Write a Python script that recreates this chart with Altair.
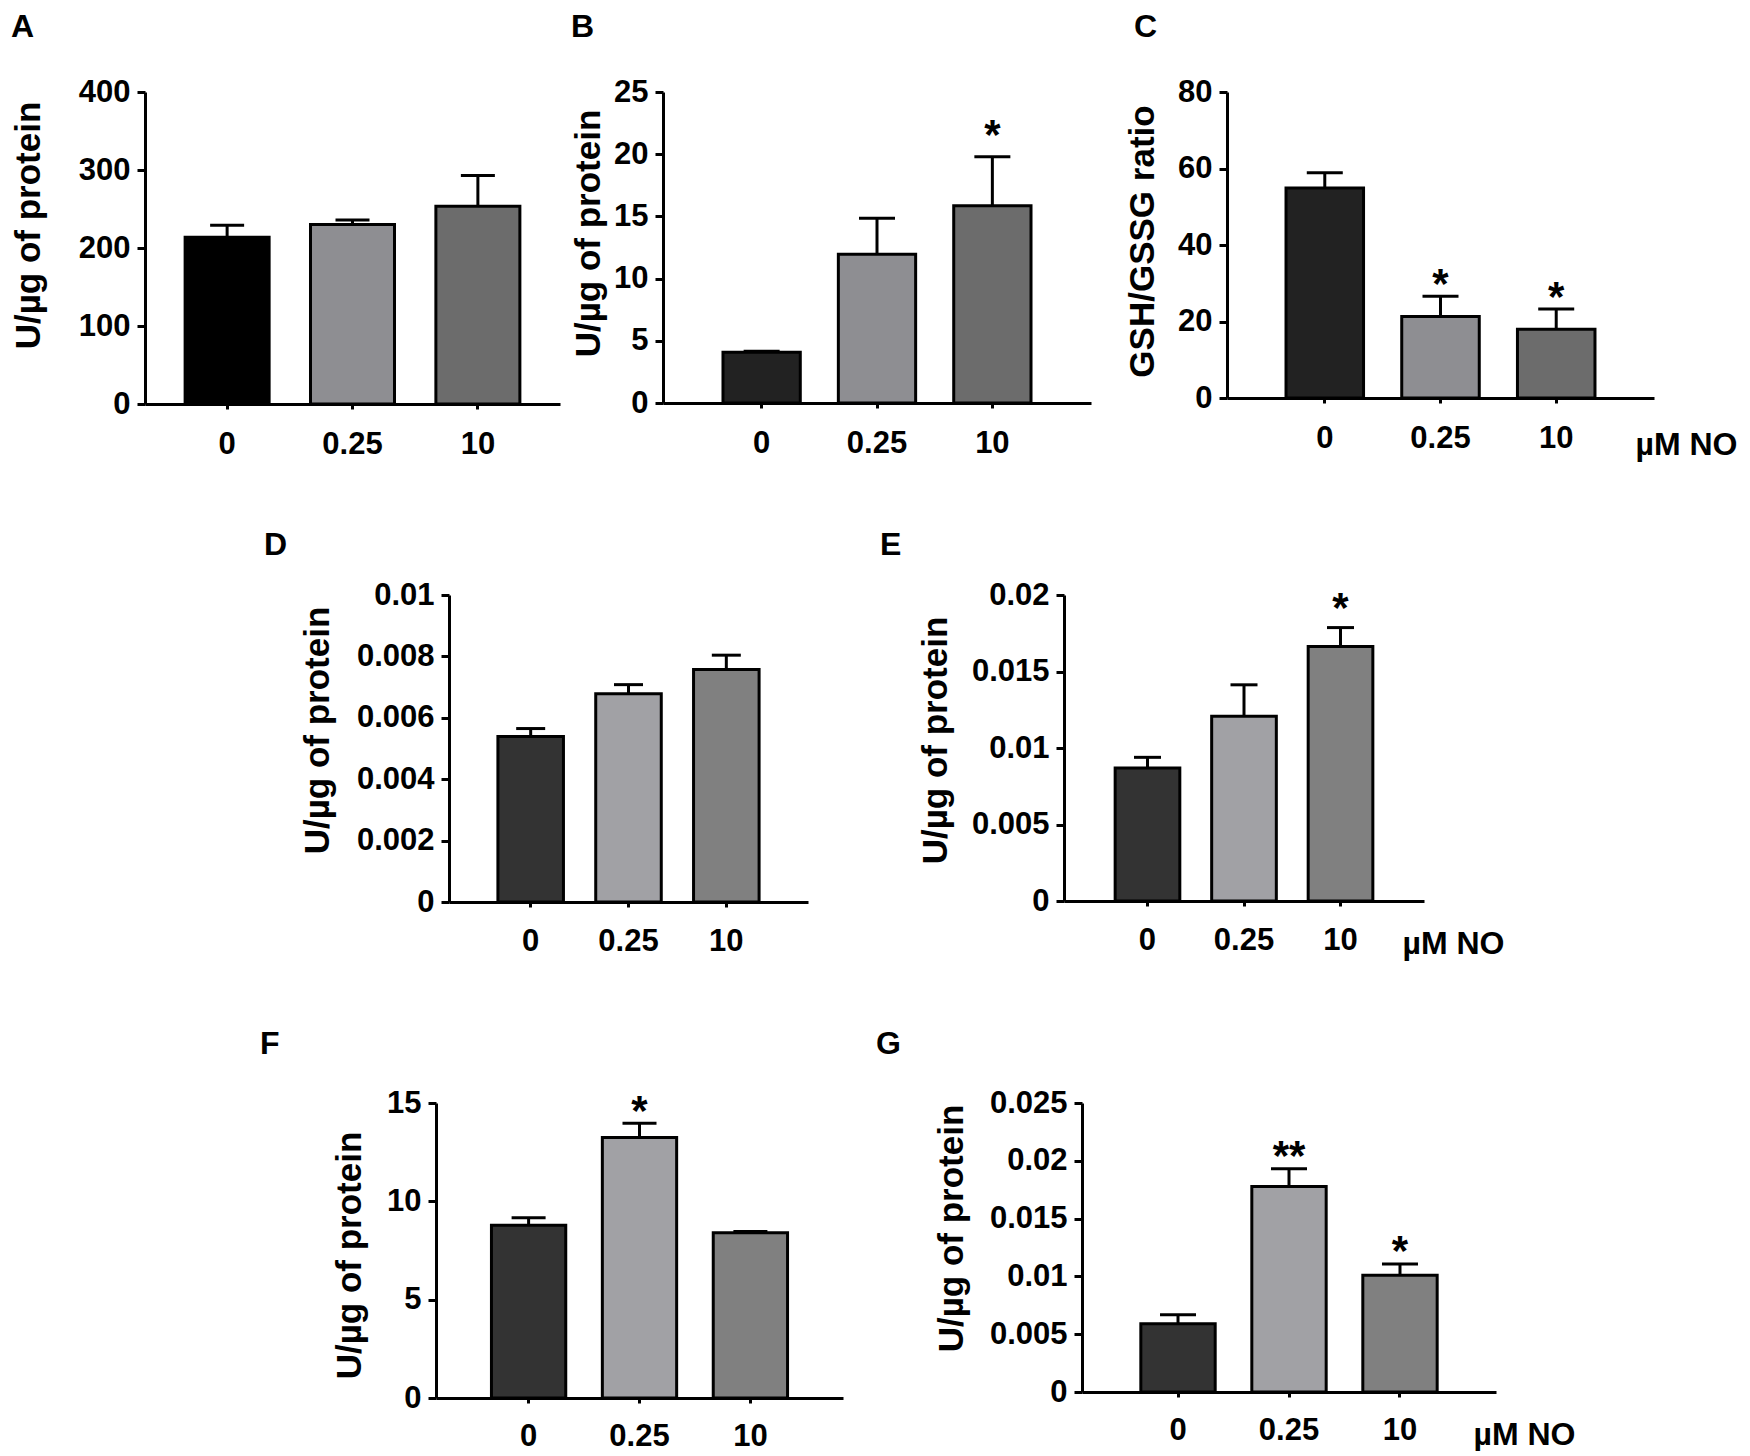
import altair as alt
import pandas as pd

doses = ["0", "0.25", "10"]

a_vals = [213.8, 230.0, 253.4]
a_errs = [15.5, 6.0, 39.7]
a_sig = ["", "", ""]
a_ticks = [0, 100, 200, 300, 400]

b_vals = [4.07, 11.95, 15.86]
b_errs = [0.1, 2.9, 3.94]
b_sig = ["", "", "*"]
b_ticks = [0, 5, 10, 15, 20, 25]

c_vals = [54.9, 21.3, 17.96]
c_errs = [4.0, 5.3, 5.3]
c_sig = ["", "*", "*"]
c_ticks = [0, 20, 40, 60, 80]

d_vals = [0.00539, 0.00678, 0.00757]
d_errs = [0.00026, 0.0003, 0.00047]
d_sig = ["", "", ""]
d_ticks = [0, 0.002, 0.004, 0.006, 0.008, 0.01]

e_vals = [0.0087, 0.01207, 0.01663]
e_errs = [0.00069, 0.00206, 0.00124]
e_sig = ["", "", "*"]
e_ticks = [0, 0.005, 0.01, 0.015, 0.02]

f_vals = [8.79, 13.25, 8.4]
f_errs = [0.38, 0.72, 0.07]
f_sig = ["", "*", ""]
f_ticks = [0, 5, 10, 15]

g_vals = [0.0059, 0.01778, 0.01011]
g_errs = [0.00078, 0.00154, 0.00097]
g_sig = ["", "**", "*"]
g_ticks = [0, 0.005, 0.01, 0.015, 0.02, 0.025]

colors_a = ["#000000", "#8e8e92", "#6c6c6c"]
colors_bc = ["#222222", "#8e8e92", "#6c6c6c"]
colors_dg = ["#333333", "#a1a1a5", "#808080"]

FONT = "Liberation Sans"
LBL = 31


def panel(letter, vals, errs, sig, ticks, ytitle, colors, width, height, outer,
          cap, title_dx, title_offset, y_ext, y_pad, title_y, star_dy, x_pad,
          no_x=None, no_y=None):
    df = pd.DataFrame({"dose": doses, "val": vals, "err": errs, "sig": sig})
    base = alt.Chart(df).transform_calculate(top="datum.val + datum.err")

    xaxis_kw = dict(labelAngle=0, labelFontSize=LBL, labelFontWeight="bold",
                    labelColor="black", labelFont=FONT, tickSize=5, tickWidth=3,
                    tickColor="black", domainWidth=3, domainColor="black",
                    labelPadding=x_pad, grid=False)
    if no_x is not None:
        xaxis_kw.update(title="µM NO", titleX=no_x, titleY=no_y, titleAlign="left",
                        titleBaseline="middle", titleFontSize=32,
                        titleFontWeight="bold", titleColor="black", titleFont=FONT,
                        titleAngle=0)
    else:
        xaxis_kw.update(title=None)

    x = alt.X("dose:N", sort=doses,
              scale=alt.Scale(domain=doses, paddingInner=0.33, paddingOuter=outer),
              axis=alt.Axis(**xaxis_kw))
    y = alt.Y("val:Q",
              scale=alt.Scale(domain=[ticks[0], ticks[-1]], nice=False, zero=True),
              axis=alt.Axis(values=ticks, format=".4~r", tickSize=8, tickWidth=3,
                            tickColor="black", domainWidth=3, domainColor="black",
                            labelPadding=7, labelFontSize=LBL, labelFontWeight="bold",
                            labelColor="black", labelFont=FONT, title=ytitle,
                            titleFontSize=35, titleFontWeight="bold",
                            titleColor="black", titleFont=FONT, titlePadding=y_pad,
                            minExtent=y_ext, maxExtent=y_ext,
                            titleY=title_y, grid=False))

    bars = base.mark_bar(stroke="black", strokeWidth=3).encode(
        x=x, y=y,
        color=alt.Color("dose:N", sort=doses,
                        scale=alt.Scale(domain=doses, range=colors), legend=None))
    rule = base.mark_rule(color="black", strokeWidth=3).encode(
        x=alt.X("dose:N", sort=doses), y="val:Q", y2="top:Q")
    capm = base.mark_tick(color="black", thickness=3, size=cap, opacity=1).encode(
        x=alt.X("dose:N", sort=doses), y="top:Q")
    stars = base.mark_text(fontSize=42, fontWeight="bold", font=FONT,
                           baseline="alphabetic", dy=star_dy, color="black").encode(
        x=alt.X("dose:N", sort=doses), y="top:Q", text="sig:N")

    return alt.layer(bars, rule, capm, stars).properties(
        width=width, height=height,
        title=alt.TitleParams(text=letter, anchor="start", frame="bounds",
                              dx=title_dx, offset=title_offset, fontSize=32,
                              fontWeight="bold", color="black", font=FONT))


def spacer(w):
    return alt.Chart(pd.DataFrame({"s": [0]})).mark_point(opacity=0, size=1).encode(
        x=alt.value(1), y=alt.value(0)).properties(width=w, height=1)


ytl = "U/µg of protein"

pa = panel("A", a_vals, a_errs, a_sig, a_ticks, ytl, colors_a, 415, 312, 0.32, 34,
           0, 32, 68, 31, 133, 1.5, 20)
pb = panel("B", b_vals, b_errs, b_sig, b_ticks, ytl, colors_bc, 428, 311, 0.52, 36,
           0, 32, 51, 6, 141, -8, 20)
pc = panel("C", c_vals, c_errs, c_sig, c_ticks, "GSH/GSSG ratio", colors_bc, 427, 306,
           0.51, 36, 9, 32, 51, 16, 149, 1.5, 20, no_x=408, no_y=46)
pd_ = panel("D", d_vals, d_errs, d_sig, d_ticks, ytl, colors_dg, 359, 307, 0.5, 29,
            -36, 17, 95, 19, 135, 1.5, 19)
pe = panel("E", e_vals, e_errs, e_sig, e_ticks, ytl, colors_dg, 360, 306, 0.53, 27,
           -38, 17, 95, 16, 145, -6, 19, no_x=338, no_y=42)
pf = panel("F", f_vals, f_errs, f_sig, f_ticks, ytl, colors_dg, 407, 295, 0.5, 34,
           -72, 26, 51, 18, 152, 1.5, 18)
pg = panel("G", g_vals, g_errs, g_sig, g_ticks, ytl, colors_dg, 414, 289, 0.53, 36,
           -58, 26, 95, 18, 125, 1.5, 18, no_x=391, no_y=42)

row1 = alt.hconcat(pa, alt.hconcat(pb, pc, spacing=33).resolve_scale(color="independent"),
                   spacing=10).resolve_scale(color="independent")
row2 = alt.hconcat(spacer(119),
                   alt.hconcat(pd_, pe, spacing=72).resolve_scale(color="independent"),
                   spacing=0).resolve_scale(color="independent")
row3 = alt.hconcat(spacer(115),
                   alt.hconcat(pf, pg, spacing=33).resolve_scale(color="independent"),
                   spacing=0).resolve_scale(color="independent")

chart = alt.vconcat(row1, row2, row3, spacing=69).resolve_scale(
    color="independent"
).properties(
    padding={"left": 3, "top": 3, "right": 0, "bottom": 0}, background="white"
).configure(font=FONT).configure_view(strokeWidth=0, stroke="transparent")

chart.save("out.html", embed_options={"renderer": "svg", "actions": False})
